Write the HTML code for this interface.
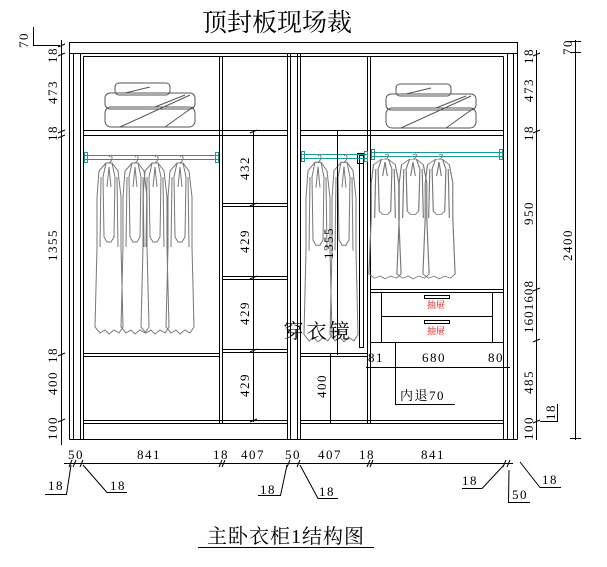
<!DOCTYPE html>
<html><head><meta charset="utf-8"><style>
html,body{margin:0;padding:0;background:#fff;}
svg{display:block;}
text{font-family:"Liberation Serif","Noto Serif CJK SC",serif;fill:#000;}
.d text{letter-spacing:1.5px;}
</style></head><body>
<svg width="607" height="567" viewBox="0 0 607 567" xmlns="http://www.w3.org/2000/svg">
<defs>
<g id="coat" fill="none" stroke="#777" stroke-width="1">
<path d="M0,0 q3,-4 3,2 q-1,3 -3,4"/>
<path d="M-3,6 L-10,14 L-12,40 L-12,90 L-14,170 L-9,176 L-4,173 L0,177 L5,173 L10,176 L14,170 L12,90 L12,40 L9,14 L3,6 Z"/>
<path d="M-3,6 L-6,20 L-5,80 L-2,85 L2,85 L5,80 L6,20 L3,6"/>
<path d="M-8,20 L-9,90 M8,20 L9,90 M0,10 L-2,30 M0,10 L2,30"/>
</g>
<g id="blanket" fill="none" stroke="#555" stroke-width="1">
<rect x="10" y="0" width="55" height="12" rx="4"/>
<rect x="0" y="10" width="90" height="16" rx="5"/>
<rect x="0" y="24" width="90" height="20" rx="6"/>
<path d="M15,44 L85,12 M60,44 L88,24 M20,10 L45,4 M50,24 L80,12"/>
</g>
</defs>

<text x="277" y="31" font-size="25" text-anchor="middle">顶封板现场裁</text>

<g fill="none" stroke="#000" stroke-width="1">
<rect x="69.5" y="42.5" width="448" height="11"/>
<line x1="69.5" y1="53.5" x2="69.5" y2="439.5"/>
<line x1="517.5" y1="53.5" x2="517.5" y2="439.5"/>
<line x1="69.5" y1="439.5" x2="517.5" y2="439.5"/>
<line x1="73.5" y1="53.5" x2="73.5" y2="439.5"/>
<line x1="80.5" y1="53.5" x2="80.5" y2="439.5"/>
<line x1="83.5" y1="56.5" x2="83.5" y2="439.5"/>
<line x1="513.5" y1="53.5" x2="513.5" y2="439.5"/>
<line x1="507.5" y1="53.5" x2="507.5" y2="439.5"/>
<line x1="503.5" y1="56.5" x2="503.5" y2="439.5"/>
<line x1="83.5" y1="56.5" x2="503.5" y2="56.5"/>
<line x1="287.5" y1="53.5" x2="287.5" y2="439.5"/>
<line x1="290.5" y1="53.5" x2="290.5" y2="439.5"/>
<line x1="297.5" y1="53.5" x2="297.5" y2="439.5"/>
<line x1="300.5" y1="53.5" x2="300.5" y2="439.5"/>
<line x1="219.5" y1="56.5" x2="219.5" y2="423.5"/>
<line x1="222.5" y1="56.5" x2="222.5" y2="423.5"/>
<line x1="367.5" y1="56.5" x2="367.5" y2="423.5"/>
<line x1="370.5" y1="56.5" x2="370.5" y2="423.5"/>
<line x1="83.5" y1="130.5" x2="287.5" y2="130.5"/>
<line x1="83.5" y1="135.5" x2="287.5" y2="135.5"/>
<line x1="300.5" y1="130.5" x2="503.5" y2="130.5"/>
<line x1="300.5" y1="135.5" x2="503.5" y2="135.5"/>
<line x1="83.5" y1="353.5" x2="219.5" y2="353.5"/>
<line x1="83.5" y1="356.5" x2="219.5" y2="356.5"/>
<line x1="222.5" y1="203.5" x2="287.5" y2="203.5"/>
<line x1="222.5" y1="206.5" x2="287.5" y2="206.5"/>
<line x1="222.5" y1="276.5" x2="287.5" y2="276.5"/>
<line x1="222.5" y1="279.5" x2="287.5" y2="279.5"/>
<line x1="222.5" y1="349.5" x2="287.5" y2="349.5"/>
<line x1="222.5" y1="352.5" x2="287.5" y2="352.5"/>
<line x1="83.5" y1="420.5" x2="287.5" y2="420.5"/>
<line x1="83.5" y1="423.5" x2="287.5" y2="423.5"/>
<line x1="300.5" y1="420.5" x2="503.5" y2="420.5"/>
<line x1="300.5" y1="423.5" x2="503.5" y2="423.5"/>
<line x1="300.5" y1="353.5" x2="367.5" y2="353.5"/>
<line x1="300.5" y1="356.5" x2="367.5" y2="356.5"/>
<line x1="370.5" y1="289.5" x2="503.5" y2="289.5"/>
<line x1="370.5" y1="292.5" x2="503.5" y2="292.5"/>
<rect x="381.5" y="292.5" width="111" height="50"/>
<line x1="381.5" y1="316.5" x2="492.5" y2="316.5"/>
<line x1="370.5" y1="342.5" x2="503.5" y2="342.5"/>
<rect x="424.5" y="295.5" width="25" height="3"/>
<rect x="424.5" y="320.5" width="25" height="3"/>
<rect x="359.5" y="155.5" width="4" height="192"/>
<rect x="357.5" y="153.5" width="6" height="10"/>
</g>
<text x="436" y="308" font-size="9" style="fill:#c00" text-anchor="middle">抽屉</text>
<text x="436" y="334" font-size="9" style="fill:#c00" text-anchor="middle">抽屉</text>

<use href="#blanket" x="105" y="83"/>
<use href="#blanket" x="386" y="84"/>

<g stroke="#1a9999" fill="none">
<line x1="84" y1="155.5" x2="218" y2="155.5"/>
<line x1="84" y1="159.5" x2="218" y2="159.5"/>
<rect x="84.5" y="152.5" width="3" height="10"/>
<rect x="215.5" y="152.5" width="3" height="10"/>
<line x1="301" y1="154.5" x2="367" y2="154.5"/>
<line x1="301" y1="158.5" x2="367" y2="158.5"/>
<rect x="301.5" y="151.5" width="3" height="10"/>
<rect x="364.5" y="151.5" width="3" height="10"/>
<line x1="371" y1="152.5" x2="502" y2="152.5"/>
<line x1="371" y1="156.5" x2="502" y2="156.5"/>
<rect x="371.5" y="149.5" width="3" height="10"/>
<rect x="499.5" y="149.5" width="3" height="10"/>
</g>

<use href="#coat" transform="translate(109,157)"/>
<use href="#coat" transform="translate(135,157)"/>
<use href="#coat" transform="translate(155,157)"/>
<use href="#coat" transform="translate(180,157)"/>
<use href="#coat" transform="translate(318,156) scale(1,1.05)"/>
<use href="#coat" transform="translate(344,156) scale(1,1.05)"/>
<use href="#coat" transform="translate(385,155) scale(1.15,0.7)"/>
<use href="#coat" transform="translate(413,155) scale(1.15,0.7)"/>
<use href="#coat" transform="translate(439,155) scale(1.15,0.7)"/>

<g stroke="#000" fill="none">
<line x1="253.5" y1="130" x2="253.5" y2="422"/>
<line x1="337.5" y1="130" x2="337.5" y2="355"/>
<line x1="330.5" y1="353" x2="330.5" y2="424"/>
<line x1="366" y1="367.5" x2="510" y2="367.5"/>
<polyline points="395.5,342 395.5,404.5 455,404.5"/>
<line x1="61.5" y1="40" x2="61.5" y2="445"/>
<polyline points="33.5,27 33.5,45.5 60,45.5"/>
<line x1="536.5" y1="50" x2="536.5" y2="440"/>
<line x1="575.5" y1="40" x2="575.5" y2="440"/>
<line x1="570" y1="41.5" x2="581" y2="41.5"/>
<line x1="570" y1="52.5" x2="581" y2="52.5"/>
<line x1="570" y1="438.5" x2="581" y2="438.5"/>
<polyline points="540,421.5 557.5,421.5 557.5,404"/>
<line x1="64" y1="463.5" x2="513" y2="463.5"/>
<polyline points="45,494.5 66.5,494.5 71,465"/>
<polyline points="127,492.5 107,492.5 83,465"/>
<polyline points="258,495.5 280.5,495.5 287,465"/>
<polyline points="338,498.5 318,498.5 300,465"/>
<polyline points="462,488.5 482,488.5 504,465"/>
<polyline points="508,502.5 508.5,502.5 509,470"/>
<line x1="508" y1="502.5" x2="530" y2="502.5"/>
<polyline points="561,487.5 540,487.5 520,462"/>
<line x1="198" y1="547.5" x2="374" y2="547.5"/>
</g>
<g stroke="#000" stroke-width="1">
<path d="M58,47 l7,-3 M58,56 l7,-3 M58,133 l7,-3 M58,138 l7,-3 M58,356 l7,-3 M58,422 l7,-3 M533,133 l7,-3 M533,56 l7,-3 M533,291 l7,-3 M533,342 l7,-3 M533,423 l7,-3 M250,133 l7,-3 M250,206 l7,-3 M250,279 l7,-3 M250,352 l7,-3 M250,422 l7,-3 M69,467 l3,-7 M73,467 l3,-7 M80,467 l3,-7 M219,467 l3,-7 M222,467 l3,-7 M287,467 l3,-7 M297,467 l3,-7 M367,467 l3,-7 M370,467 l3,-7 M503,467 l3,-7 M507,467 l3,-7"/>
</g>

<g font-size="13" class="d">
<text transform="translate(28,40) rotate(-90)" text-anchor="middle">70</text>
<text transform="translate(57,55) rotate(-90)" text-anchor="middle">18</text>
<text transform="translate(57,92) rotate(-90)" text-anchor="middle">473</text>
<text transform="translate(57,133) rotate(-90)" text-anchor="middle">18</text>
<text transform="translate(57,245) rotate(-90)" text-anchor="middle">1355</text>
<text transform="translate(57,355) rotate(-90)" text-anchor="middle">18</text>
<text transform="translate(57,383) rotate(-90)" text-anchor="middle">400</text>
<text transform="translate(57,428) rotate(-90)" text-anchor="middle">100</text>

<text transform="translate(533,56) rotate(-90)" text-anchor="middle">18</text>
<text transform="translate(533,90) rotate(-90)" text-anchor="middle">473</text>
<text transform="translate(533,133) rotate(-90)" text-anchor="middle">18</text>
<text transform="translate(533,213) rotate(-90)" text-anchor="middle">950</text>
<text transform="translate(533,307) rotate(-90)" text-anchor="middle" textLength="52" style="letter-spacing:0">1601608</text>
<text transform="translate(533,382) rotate(-90)" text-anchor="middle">485</text>
<text transform="translate(533,428) rotate(-90)" text-anchor="middle">100</text>
<text transform="translate(555,412) rotate(-90)" text-anchor="middle">18</text>
<text transform="translate(572,245) rotate(-90)" text-anchor="middle">2400</text>
<text transform="translate(572,47) rotate(-90)" text-anchor="middle">70</text>

<text transform="translate(249,168) rotate(-90)" text-anchor="middle">432</text>
<text transform="translate(249,241) rotate(-90)" text-anchor="middle">429</text>
<text transform="translate(249,313) rotate(-90)" text-anchor="middle">429</text>
<text transform="translate(249,385) rotate(-90)" text-anchor="middle">429</text>
<text transform="translate(333,243) rotate(-90)" text-anchor="middle">1355</text>
<text transform="translate(326,386) rotate(-90)" text-anchor="middle">400</text>

<text x="376" y="362" text-anchor="middle">81</text>
<text x="434" y="362" text-anchor="middle">680</text>
<text x="496" y="362" text-anchor="middle">80</text>
<text x="400" y="400">内退70</text>

<text x="76" y="459" text-anchor="middle">50</text>
<text x="149" y="459" text-anchor="middle">841</text>
<text x="221" y="459" text-anchor="middle">18</text>
<text x="253" y="459" text-anchor="middle">407</text>
<text x="293" y="459" text-anchor="middle">50</text>
<text x="330" y="459" text-anchor="middle">407</text>
<text x="367" y="459" text-anchor="middle">18</text>
<text x="433" y="459" text-anchor="middle">841</text>

<text x="56" y="490" text-anchor="middle">18</text>
<text x="118" y="490" text-anchor="middle">18</text>
<text x="268" y="494" text-anchor="middle">18</text>
<text x="327" y="496" text-anchor="middle">18</text>
<text x="470" y="485" text-anchor="middle">18</text>
<text x="520" y="499" text-anchor="middle">50</text>
<text x="550" y="484" text-anchor="middle">18</text>
</g>
<text x="318" y="338" font-size="20" text-anchor="middle" style="letter-spacing:3px">穿衣镜</text>
<text x="286" y="543" font-size="20" text-anchor="middle" style="letter-spacing:1px">主卧衣柜1结构图</text>
</svg>
</body></html>
